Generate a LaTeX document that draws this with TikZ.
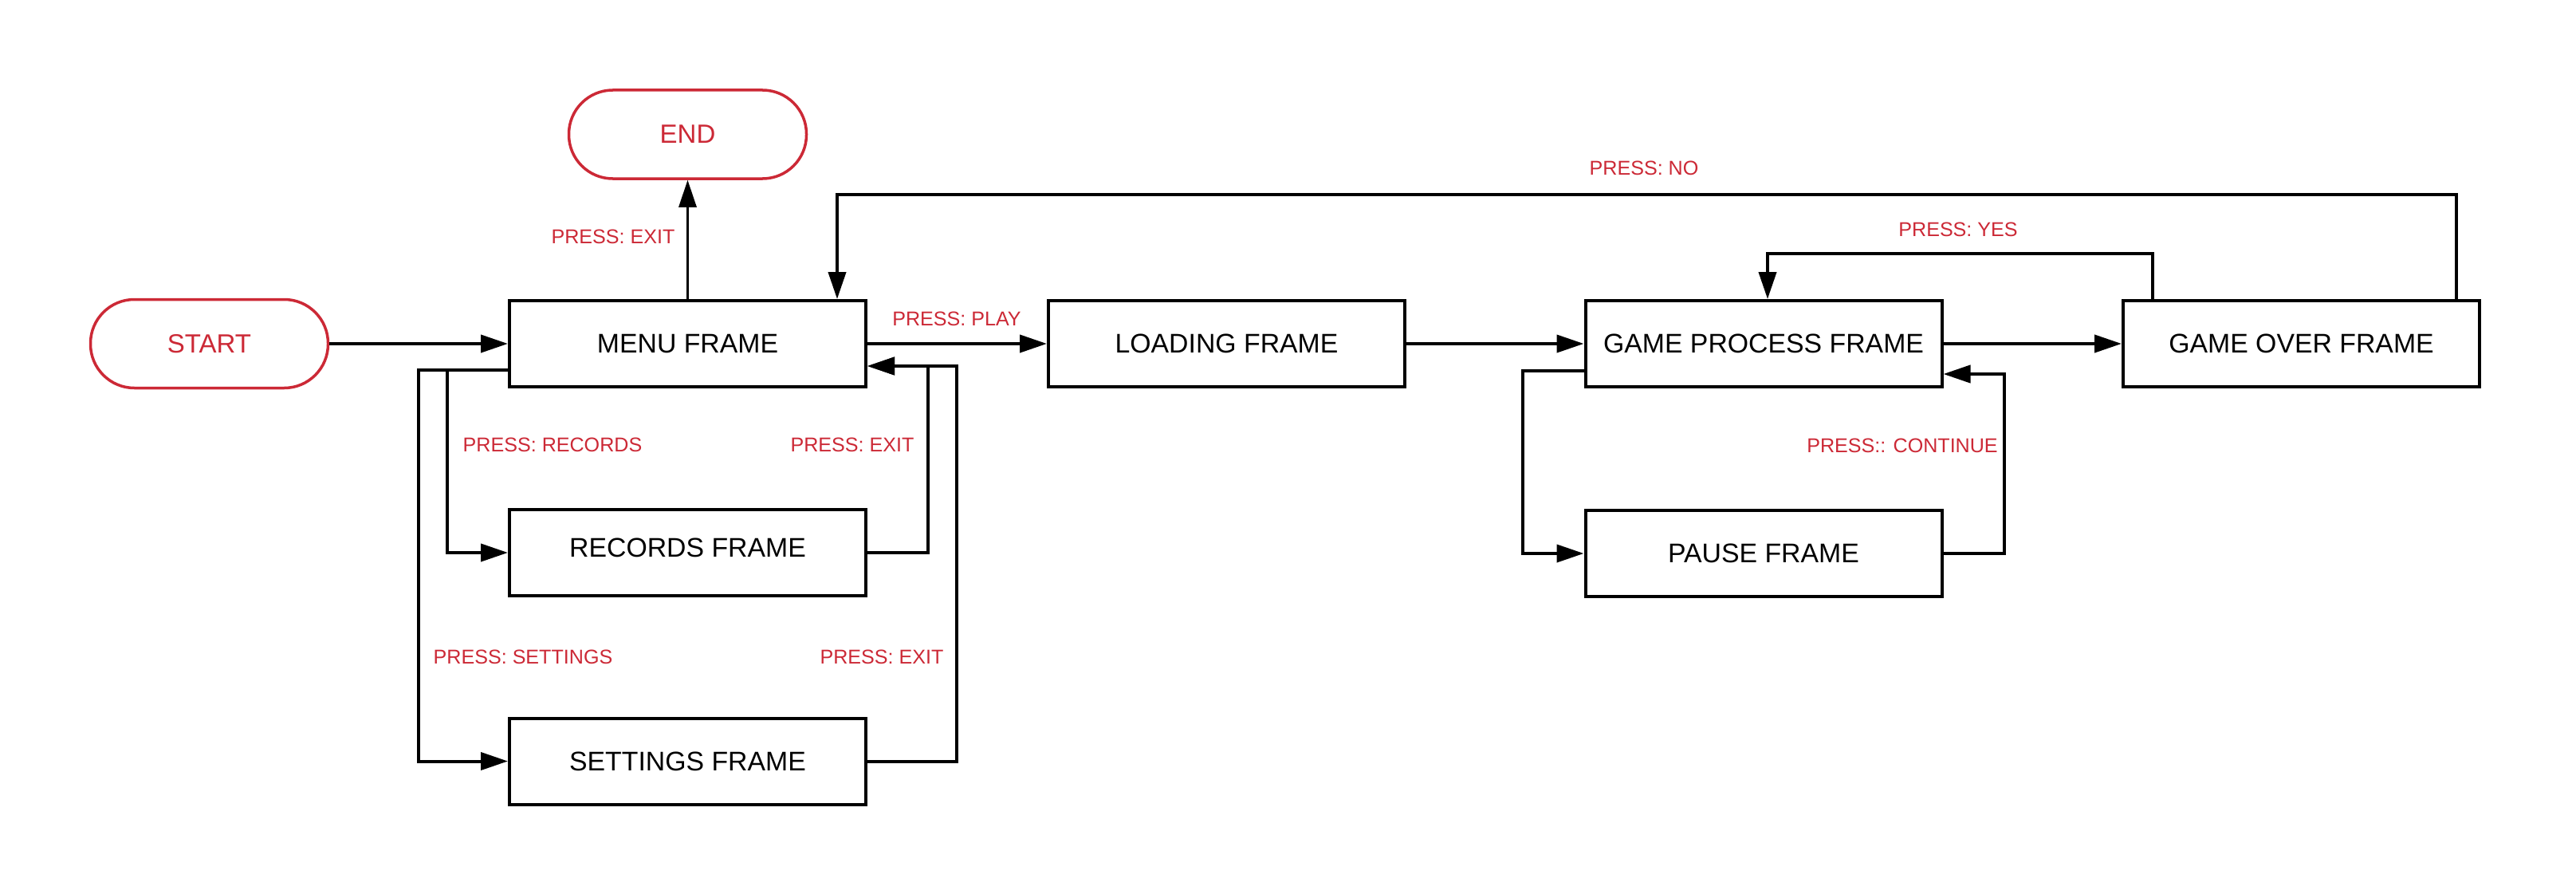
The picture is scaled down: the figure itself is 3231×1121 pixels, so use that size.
\documentclass[tikz,border=0pt]{standalone}
\usepackage{fontspec}
\setmainfont{Liberation Sans}
\usetikzlibrary{arrows.meta}
\definecolor{termred}{RGB}{204,41,54}
\begin{document}
\begin{tikzpicture}[x=1pt,y=-1pt,
  frame/.style={draw=black,line width=4pt,minimum width=447pt,minimum height=108pt,
    inner sep=0pt,font=\fontsize{33.8}{40}\selectfont},
  terminal/.style={draw=termred,text=termred,line width=3.5pt,rounded corners=55pt,
    minimum width=298pt,minimum height=111pt,inner sep=0pt,font=\fontsize{33}{40}\selectfont},
  link/.style={line width=4pt,-{Triangle[length=34pt,width=22pt]}},
  tag/.style={text=termred,inner sep=0pt,font=\fontsize{25.1}{30}\selectfont}]
\fill[white] (0,0) rectangle (3231,1121);
\useasboundingbox (0,0) rectangle (3231,1121);

% states
\node[terminal] (start) at (262.5,431) {START};
\node[terminal] (end)   at (862.5,168.5) {END};
\node[frame] (menu)     at (862.5,431) {MENU FRAME};
\node[frame] (loading)  at (1538.5,431) {LOADING FRAME};
\node[frame] (game)     at (2212,431) {GAME PROCESS FRAME};
\node[frame] (over)     at (2886.5,431) {GAME OVER FRAME};
\node[frame,text height=24.2pt,text depth=14pt] (records) at (862.5,693) {RECORDS FRAME};
\node[frame] (settings) at (862.5,954.5) {SETTINGS FRAME};
\node[frame] (pause)    at (2212,694) {PAUSE FRAME};

% bend points of the routed connectors
\coordinate (menuout)  at (600,464);
\coordinate (setx)     at (524.5,954.5);
\coordinate (recx)     at (561,693);
\coordinate (menuin)   at (1100,459);
\coordinate (recback)  at (1164,693);
\coordinate (setback)  at (1200,954.5);
\coordinate (yesa)     at (2700,318);
\coordinate (yesb)     at (2217,318);
\coordinate (noa)      at (3081,244);
\coordinate (nob)      at (1050,244);
\coordinate (gameout)  at (1910,465);
\coordinate (pausex)   at (1910,694);
\coordinate (gamein)   at (2514,469);
\coordinate (pauseback) at (2514,694);

% main line
\draw[link] (start) -- (menu);
\draw[link] (menu) -- (loading);
\draw[link] (loading) -- (game);
\draw[link] (game) -- (over);
\draw[link,line width=3pt] (menu.north) -- (end.south);

% menu sub-frames
\draw[link] (menu.west |- menuout) -| (setx) -- (settings.west |- setx);
\draw[link] (menu.west |- menuout) -| (recx) -- (records.west |- recx);
\draw[link] (records.east |- recback) -- (recback) |- (menu.east |- menuin);
\draw[link] (settings.east |- setback) -- (setback) |- (menu.east |- menuin);

% game loop
\draw[link] (game.west |- gameout) -| (pausex) -- (pause.west |- pausex);
\draw[link] (pause.east |- pauseback) -- (pauseback) |- (game.east |- gamein);
\draw[link] (over.north -| yesa) -- (yesa) -- (yesb) -- (game.north -| yesb);
\draw[link] (over.north -| noa) -- (noa) -- (nob) -- (menu.north -| nob);

% key labels
\node[tag] (lexit)  at (769,297)  {PRESS: EXIT};
\node[tag] (lplay)  at (1200,400) {PRESS: PLAY};
\node[tag] (lrec)   at (693,558)  {PRESS: RECORDS};
\node[tag] (lrexit) at (1069,558) {PRESS: EXIT};
\node[tag] (lset)   at (656,824)  {PRESS: SETTINGS};
\node[tag] (lsexit) at (1106,824) {PRESS: EXIT};
\node[tag] (lcont)  at (2386,559) {PRESS:: CONTINUE};
\node[tag] (lyes)   at (2456,288) {PRESS: YES};
\node[tag] (lno)    at (2062,211) {PRESS: NO};
\end{tikzpicture}
\end{document}
